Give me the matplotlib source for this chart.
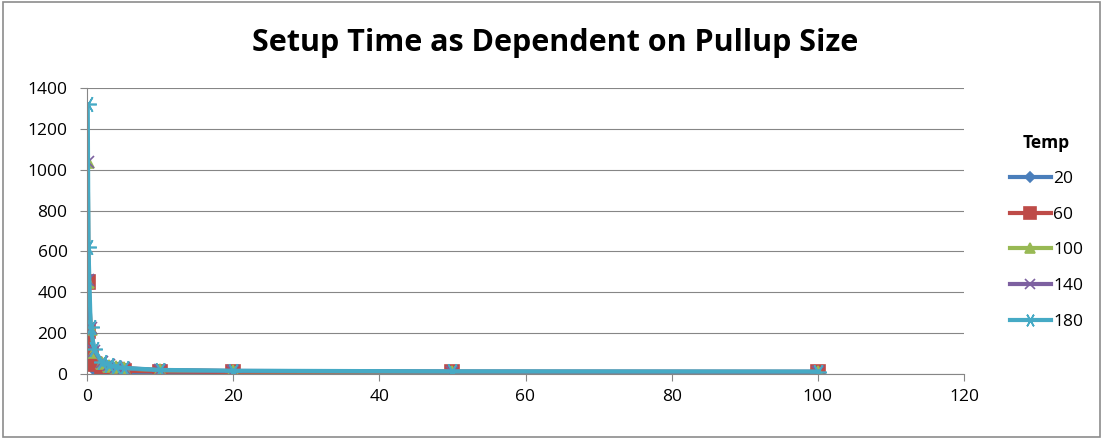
import matplotlib.pyplot as plt
from matplotlib.patches import Rectangle

# pullup size (x) and setup time for each temperature
pullup = [0.1, 0.2, 0.5, 1, 2, 3, 4, 5, 10, 20, 50, 100]
temps = ['20', '60', '100', '140', '180']
t20 = [210, 100, 45, 25, 15, 12, 11, 10, 9, 8, 8, 8]
t60 = [450, 210, 100, 50, 30, 22, 18, 16, 12, 10, 9, 9]
t100 = [1040, 450, 220, 110, 55, 40, 32, 28, 18, 14, 11, 10]
t140 = [1040, 460, 225, 115, 58, 42, 34, 29, 19, 15, 12, 11]
t180 = [1320, 620, 230, 120, 60, 44, 35, 30, 20, 16, 13, 12]
series = [t20, t60, t100, t140, t180]

colors = ['#4A7EBB', '#BE4B48', '#98B954', '#7D60A0', '#46AAC5']
markers = ['D', 's', '^', 'x', (6, 2, 90)]
msizes = [6, 10, 9, 9, 12]

plt.rcParams['font.family'] = ['Open Sans', 'DejaVu Sans']

fig = plt.figure(figsize=(11.02, 4.38), dpi=100)
fig.patches.append(Rectangle((0.003, 0.003), 0.995, 0.993, transform=fig.transFigure,
                             fill=False, edgecolor='#8c8c8c', linewidth=1.2))
ax = fig.add_axes([87 / 1102, 1 - 374 / 438, (964 - 87) / 1102, (374 - 88) / 438])

for ys, lab, c, m, ms in zip(series, temps, colors, markers, msizes):
    ax.plot(pullup, ys, color=c, linewidth=3, marker=m, markersize=ms,
            markeredgecolor=c, markeredgewidth=1.2, label=lab)

ax.set_xlim(0, 120)
ax.set_ylim(0, 1400)
ax.set_xticks(range(0, 121, 20))
ax.set_yticks(range(0, 1401, 200))
ax.yaxis.grid(True, color='#868686', linewidth=0.8)
ax.set_axisbelow(True)
for s in ['top', 'right']:
    ax.spines[s].set_visible(False)
for s in ['left', 'bottom']:
    ax.spines[s].set_color('#868686')
ax.tick_params(colors='#868686', labelcolor='black', labelsize=12.5, length=5, width=0.8)
ax.tick_params(axis='y', pad=9)
ax.tick_params(axis='x', pad=6)

fig.text(555 / 1102, 1 - 43 / 438, 'Setup Time as Dependent on Pullup Size',
         ha='center', va='center', fontsize=22, fontweight='bold')

leg = ax.legend(title='Temp', loc='upper left', bbox_to_anchor=(994 / 1102, 1 - 118 / 438),
                bbox_transform=fig.transFigure, frameon=False, fontsize=12.5,
                handlelength=2.4, handletextpad=0.1, labelspacing=1.12, markerscale=0.8)
leg.get_title().set_fontweight('bold')
leg.get_title().set_fontsize(12.5)

fig.savefig('out.png', dpi=100)
